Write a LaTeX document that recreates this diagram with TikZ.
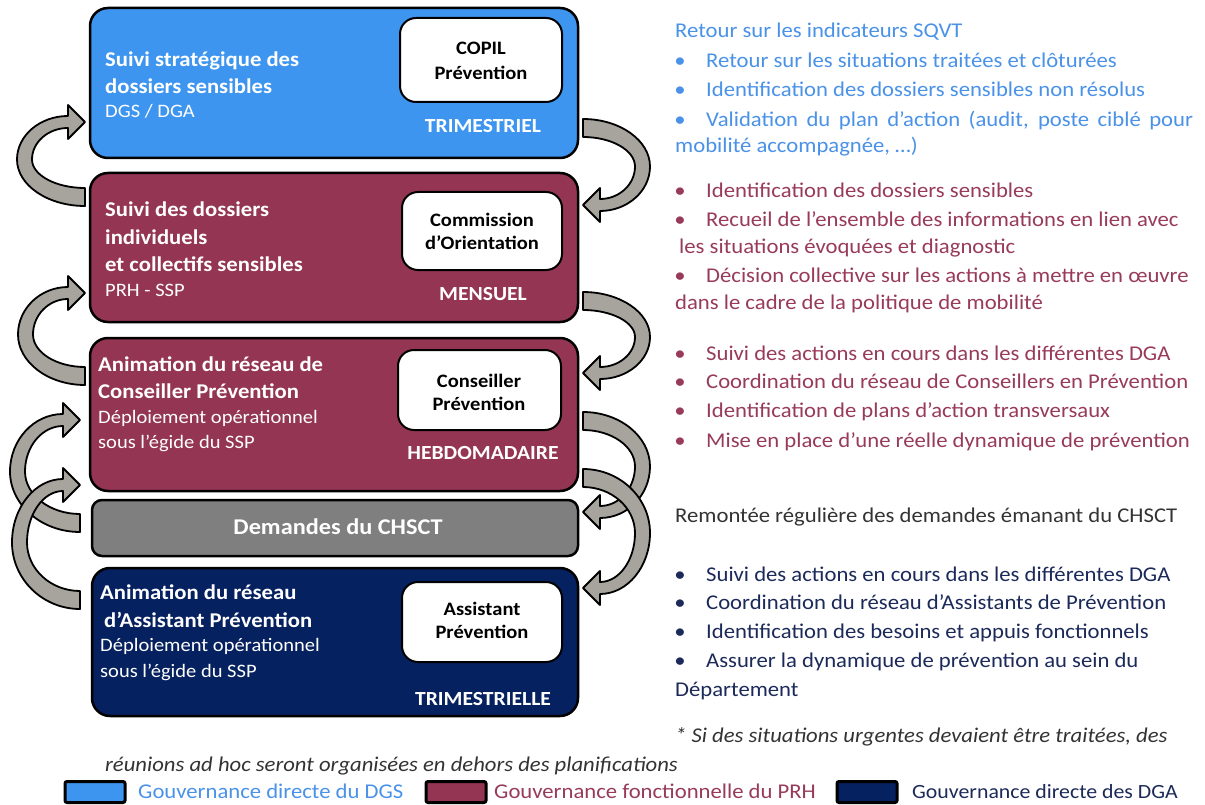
\documentclass[tikz,border=0pt]{standalone}
\usepackage{fontspec}
\setmainfont{Carlito}[FakeStretch=1.08]
\definecolor{cblue}{HTML}{3D95EF}
\definecolor{cmaroon}{HTML}{943553}
\definecolor{cnavy}{HTML}{06215F}
\definecolor{cgrey}{HTML}{7F7F7F}
\definecolor{carrow}{HTML}{A7A49D}
\definecolor{tblue}{HTML}{4A92E8}
\definecolor{tmaroon}{HTML}{983B5B}
\definecolor{tnavy}{HTML}{1C2A5A}
\definecolor{tdark}{HTML}{333333}
\newcommand{\CurvArrow}[5]{%
  \pgfmathsetmacro{\CAv}{(#2>#3)?1:-1}%
  \pgfmathsetmacro{\CAxI}{#4+#5*15}%
  \pgfmathsetmacro{\CAxb}{#1-#5*17}%
  \pgfmathsetmacro{\CAym}{(#2+#3)/2}%
  \pgfmathsetmacro{\CAyTo}{#2+\CAv*9}%
  \pgfmathsetmacro{\CAyTi}{#2-\CAv*9}%
  \pgfmathsetmacro{\CAyHo}{#3-\CAv*6}%
  \pgfmathsetmacro{\CAyHi}{#3+\CAv*6}%
  \pgfmathsetmacro{\CAyPa}{#3-\CAv*17}%
  \pgfmathsetmacro{\CAyPb}{#3+\CAv*17}%
  \pgfmathsetmacro{\CAca}{#1-0.55*(#1-#4)}%
  \pgfmathsetmacro{\CAcb}{\CAym+0.55*(\CAyTo-\CAym)}%
  \pgfmathsetmacro{\CAcc}{\CAym+0.55*(\CAyHo-\CAym)}%
  \pgfmathsetmacro{\CAcd}{\CAxb-0.55*(\CAxb-#4)}%
  \pgfmathsetmacro{\CAce}{\CAxb-0.55*(\CAxb-\CAxI)}%
  \pgfmathsetmacro{\CAcf}{\CAym+0.55*(\CAyHi-\CAym)}%
  \pgfmathsetmacro{\CAcg}{\CAym+0.55*(\CAyTi-\CAym)}%
  \pgfmathsetmacro{\CAch}{#1-0.55*(#1-\CAxI)}%
  \draw[arrowshape] (#1,\CAyTo) .. controls (\CAca,\CAyTo) and (#4,\CAcb) .. (#4,\CAym)
    .. controls (#4,\CAcc) and (\CAcd,\CAyHo) .. (\CAxb,\CAyHo)
    -- (\CAxb,\CAyPa) -- (#1,#3) -- (\CAxb,\CAyPb) -- (\CAxb,\CAyHi)
    .. controls (\CAce,\CAyHi) and (\CAxI,\CAcf) .. (\CAxI,\CAym)
    .. controls (\CAxI,\CAcg) and (\CAch,\CAyTi) .. (#1,\CAyTi) -- cycle;%
}
\begin{document}
\begin{tikzpicture}[x=1pt,y=-1pt,
  bigbox/.style={draw=black, line width=2.5pt, rounded corners=18pt, inner sep=0pt},
  whitebox/.style={draw=black, line width=2pt, fill=white, rounded corners=16pt, inner sep=0pt},
  arrowshape/.style={draw=black, line width=1.8pt, fill=carrow, line join=round},
  hb/.style={anchor=base west, inner sep=0pt, text=white, font=\fontsize{21}{25}\selectfont\bfseries},
  hr/.style={anchor=base west, inner sep=0pt, text=white, font=\fontsize{19}{23}\selectfont},
  wl/.style={anchor=base, inner sep=0pt, text=black, font=\fontsize{19}{23}\selectfont\bfseries},
  fq/.style={anchor=base, inner sep=0pt, text=white, font=\fontsize{20}{24}\selectfont\bfseries},
  rt/.style={anchor=base west, inner sep=0pt, font=\fontsize{21}{25}\selectfont},
  bl/.style={anchor=base, inner sep=0pt, font=\fontsize{21}{25}\selectfont},
  legsq/.style={draw=black, line width=3pt, rounded corners=2pt},
  lg/.style={anchor=base west, inner sep=0pt, font=\fontsize{21}{25}\selectfont},
  it/.style={anchor=base west, inner sep=0pt, text=tdark, font=\fontsize{21}{25}\selectfont\itshape}]
\useasboundingbox (0,0) rectangle (1205,805);
\fill[white] (0,0) rectangle (1205,805);

% ---- curved arrows (left side)
\CurvArrow{85}{197}{122}{17}{1}
\CurvArrow{85}{376}{293}{18}{1}
\CurvArrow{80}{523}{420}{10}{1}
\CurvArrow{80}{600}{485}{12}{1}
% ---- curved arrows (right side)
\CurvArrow{583}{128}{205}{650}{-1}
\CurvArrow{583}{301}{373}{650}{-1}
\CurvArrow{583}{421}{512}{650}{-1}
\CurvArrow{583}{478}{588}{650}{-1}

% ---- main boxes
\node[bigbox, fill=cblue, minimum width=488pt, minimum height=150pt] (b1) at (334,83) {};
\node[bigbox, fill=cmaroon, minimum width=488pt, minimum height=149pt] (b2) at (334,247.5) {};
\node[bigbox, fill=cmaroon, minimum width=488pt, minimum height=153pt] (b3) at (334,414.5) {};
\node[bigbox, fill=cgrey, rounded corners=10pt, minimum width=486pt, minimum height=56pt] (b4) at (335,528) {};
\node[bigbox, fill=cnavy, minimum width=486pt, minimum height=148pt] (b5) at (335,642) {};

% ---- white boxes
\node[whitebox, minimum width=162pt, minimum height=84pt] (w1) at (481,60) {};
\node[whitebox, minimum width=160pt, minimum height=78pt] (w2) at (482,231) {};
\node[whitebox, minimum width=163pt, minimum height=80pt] (w3) at (479.5,390) {};
\node[whitebox, minimum width=160pt, minimum height=80pt] (w4) at (482,622) {};

% ---- box 1 texts
\node[hb] (t11) at (105,67) {Suivi stratégique des};
\node[hb] (t12) at (105,94) {dossiers sensibles};
\node[hr] (t13) at (105,118) {DGS / DGA};
\node[wl] (w1a) at (481,55) {COPIL};
\node[wl] (w1b) at (481,80) {Prévention};
\node[fq] (f1) at (483,133) {TRIMESTRIEL};

% ---- box 2 texts
\node[hb] (t21) at (105,217) {Suivi des dossiers};
\node[hb] (t22) at (105,245) {individuels};
\node[hb] (t23) at (105,272) {et collectifs sensibles};
\node[hr] (t24) at (105,296) {PRH - SSP};
\node[wl] (w2a) at (482,227) {Commission};
\node[wl] (w2b) at (482,250) {d’Orientation};
\node[fq] (f2) at (483,300) {MENSUEL};

% ---- box 3 texts
\node[hb] (t31) at (98,371) {Animation du réseau de};
\node[hb] (t32) at (98,398) {Conseiller Prévention};
\node[hr] (t33) at (98,423) {Déploiement opérationnel};
\node[hr] (t34) at (98,448) {sous l’égide du SSP};
\node[wl] (w3a) at (479,387) {Conseiller};
\node[wl] (w3b) at (479,410) {Prévention};
\node[fq] (f3) at (483,459) {HEBDOMADAIRE};

% ---- box 4 text
\node[fq, font=\fontsize{22.5}{26}\selectfont\bfseries] (t41) at (338,534) {Demandes du CHSCT};

% ---- box 5 texts
\node[hb] (t51) at (100,599) {Animation du réseau};
\node[hb] (t52) at (104,627) {d’Assistant Prévention};
\node[hr] (t53) at (100,651) {Déploiement opérationnel};
\node[hr] (t54) at (100,677) {sous l’égide du SSP};
\node[wl] (w4a) at (482,615) {Assistant};
\node[wl] (w4b) at (482,638) {Prévention};
\node[fq] (f5) at (483,705) {TRIMESTRIELLE};

% ---- right texts: blue
\begin{scope}[every node/.append style={text=tblue}]
\node[rt] (r1) at (675,38) {Retour sur les indicateurs SQVT};
\node[bl] (r2b) at (680,68) {•};
\node[rt] (r2) at (706,68) {Retour sur les situations traitées et clôturées};
\node[bl] (r3b) at (680,97) {•};
\node[rt] (r3) at (706,97) {Identification des dossiers sensibles non résolus};
\node[bl] (r4b) at (680,127) {•};
\node[rt] (r4) at (706,127) {\makebox[487pt][s]{Validation du plan d’action (audit, poste ciblé pour}};
\node[rt] (r5) at (675,153) {mobilité accompagnée, …)};
\end{scope}
% maroon
\begin{scope}[every node/.append style={text=tmaroon}]
\node[bl] (m1b) at (680,198) {•};
\node[rt] (m1) at (706,198) {Identification des dossiers sensibles};
\node[bl] (m2b) at (680,227) {•};
\node[rt] (m2) at (706,227) {Recueil de l’ensemble des informations en lien avec};
\node[rt] (m3) at (679,254) {les situations évoquées et diagnostic};
\node[bl] (m4b) at (680,283) {•};
\node[rt] (m4) at (706,283) {Décision collective sur les actions à mettre en œuvre};
\node[rt] (m5) at (675,309) {dans le cadre de la politique de mobilité};
\node[bl] (m6b) at (680,360) {•};
\node[rt] (m6) at (706,360) {Suivi des actions en cours dans les différentes DGA};
\node[bl] (m7b) at (680,388) {•};
\node[rt] (m7) at (706,388) {Coordination du réseau de Conseillers en Prévention};
\node[bl] (m8b) at (680,417) {•};
\node[rt] (m8) at (706,417) {Identification de plans d’action transversaux};
\node[bl] (m9b) at (680,447) {•};
\node[rt] (m9) at (706,447) {Mise en place d’une réelle dynamique de prévention};
\end{scope}
% dark
\node[rt, text=tdark] (d1) at (675,522) {Remontée régulière des demandes émanant du CHSCT};
% navy
\begin{scope}[every node/.append style={text=tnavy}]
\node[bl] (n1b) at (680,581) {•};
\node[rt] (n1) at (706,581) {Suivi des actions en cours dans les différentes DGA};
\node[bl] (n2b) at (680,609) {•};
\node[rt] (n2) at (706,609) {Coordination du réseau d’Assistants de Prévention};
\node[bl] (n3b) at (680,638) {•};
\node[rt] (n3) at (706,638) {Identification des besoins et appuis fonctionnels};
\node[bl] (n4b) at (680,667) {•};
\node[rt] (n4) at (706,667) {Assurer la dynamique de prévention au sein du};
\node[rt] (n5) at (675,696) {Département};
\end{scope}

% ---- note
\node[it] (note1) at (675,742) {* Si des situations urgentes devaient être traitées, des};
\node[it] (note2) at (105,771) {réunions ad hoc seront organisées en dehors des planifications};

% ---- legend
\node[legsq, fill=cblue, minimum width=60pt, minimum height=21pt, inner sep=0pt] (l1) at (95,792) {};
\node[lg, text=tblue] (l1t) at (138,798) {Gouvernance directe du DGS};
\node[legsq, fill=cmaroon, minimum width=60pt, minimum height=21pt, inner sep=0pt] (l2) at (456,792) {};
\node[lg, text=tmaroon] (l2t) at (494,798) {Gouvernance fonctionnelle du PRH};
\node[legsq, fill=cnavy, minimum width=60pt, minimum height=21pt, inner sep=0pt] (l3) at (867,792) {};
\node[lg, text=tnavy, font=\fontsize{20.2}{24}\selectfont] (l3t) at (912,798) {Gouvernance directe des DGA};
\end{tikzpicture}
\end{document}
